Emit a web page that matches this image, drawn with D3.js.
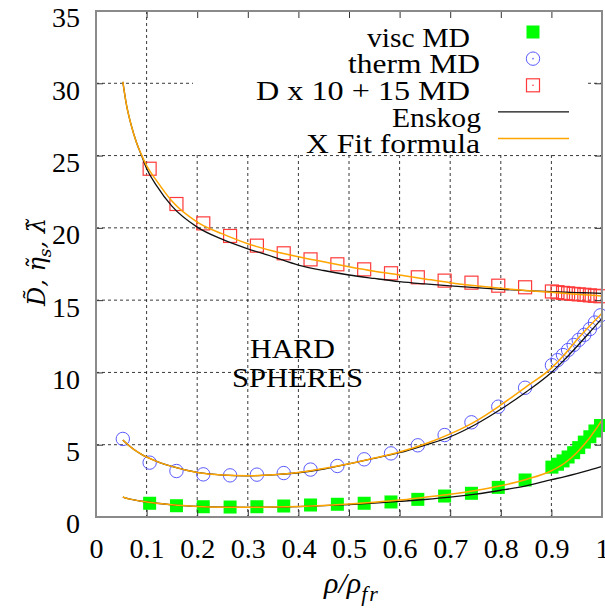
<!DOCTYPE html>
<html>
<head>
<meta charset="utf-8">
<script src="https://cdn.jsdelivr.net/npm/d3@7"></script>
<style>
  html, body { margin: 0; padding: 0; background: #fff; }
  svg { display: block; font-family: "Liberation Serif", serif; }
</style>
</head>
<body>
<svg id="chart" width="605" height="608"></svg>
<script>
// Axis ticks
const xTicks = [0, 0.1, 0.2, 0.3, 0.4, 0.5, 0.6, 0.7, 0.8, 0.9, 1];
const yTicks = [0, 5, 10, 15, 20, 25, 30, 35];

// MD densities (rho / rho_fr)
const mdDensity = [0.106, 0.159, 0.212, 0.265, 0.318, 0.371, 0.424, 0.477, 0.530, 0.583,
  0.636, 0.689, 0.742, 0.795, 0.848, 0.901, 0.912, 0.923, 0.933, 0.944, 0.954, 0.965,
  0.976, 0.986, 0.997];
const thermDensity = [0.053, 0.106, 0.159, 0.212, 0.265, 0.318, 0.371, 0.424, 0.477, 0.530,
  0.583, 0.636, 0.689, 0.742, 0.795, 0.848, 0.901, 0.912, 0.923, 0.933, 0.944, 0.954,
  0.965, 0.976, 0.986, 0.997];

// Shear viscosity (MD)
const viscMD = [0.95, 0.78, 0.71, 0.69, 0.71, 0.76, 0.83, 0.88, 0.95, 1.04, 1.22, 1.45, 1.64,
  2.05, 2.56, 3.45, 3.65, 3.88, 4.15, 4.45, 4.80, 5.18, 5.55, 5.95, 6.33];
// Thermal conductivity (MD)
const thermMD = [5.40, 3.76, 3.18, 2.95, 2.88, 2.93, 3.04, 3.28, 3.53, 3.99, 4.40, 4.96, 5.67,
  6.55, 7.63, 8.94, 10.50, 10.85, 11.20, 11.55, 11.90, 12.25, 12.60, 13.00, 13.45, 13.95];
// Self diffusion (MD), shown as D x 10 + 15
const diffMD = [24.09, 21.65, 20.31, 19.44, 18.77, 18.24, 17.82, 17.48, 17.13, 16.86, 16.58,
  16.35, 16.21, 16.00, 15.89, 15.60, 15.55, 15.50, 15.47, 15.43, 15.40, 15.37, 15.33, 15.30, 15.27];

// Theory curves sampled on a common density grid
const curveDensity = [0.053, 0.06, 0.07, 0.08, 0.09, 0.1, 0.12, 0.15, 0.2, 0.25, 0.3, 0.35,
  0.4, 0.45, 0.5, 0.55, 0.6, 0.65, 0.7, 0.75, 0.8, 0.85, 0.9, 0.925, 0.95, 0.975, 1.0];

const viscEnskog = [1.38, 1.30, 1.22, 1.15, 1.09, 1.04, 0.95, 0.84, 0.73, 0.68, 0.67, 0.69,
  0.72, 0.78, 0.86, 0.96, 1.08, 1.21, 1.37, 1.58, 1.85, 2.16, 2.58, 2.78, 3.00, 3.24, 3.50];
const viscFit = [1.38, 1.30, 1.22, 1.15, 1.09, 1.04, 0.95, 0.84, 0.73, 0.68, 0.67, 0.69,
  0.73, 0.80, 0.90, 1.02, 1.17, 1.37, 1.57, 1.83, 2.16, 2.60, 3.20, 3.70, 4.45, 5.45, 6.70];

const thermEnskog = [5.33, 5.10, 4.80, 4.55, 4.33, 4.15, 3.85, 3.50, 3.08, 2.90, 2.85, 2.92,
  3.06, 3.32, 3.68, 4.06, 4.45, 4.97, 5.55, 6.40, 7.45, 8.65, 10.00, 10.85, 11.78, 12.75, 13.74];
const thermFit = [5.33, 5.10, 4.80, 4.55, 4.33, 4.15, 3.85, 3.50, 3.08, 2.90, 2.85, 2.92,
  3.08, 3.35, 3.68, 4.08, 4.50, 5.05, 5.75, 6.62, 7.75, 9.00, 10.30, 11.20, 12.25, 13.20, 14.10];

const diffEnskog = [30.10, 28.55, 27.05, 25.90, 25.00, 24.10, 22.90, 21.50, 20.05, 19.20, 18.55,
  18.00, 17.43, 17.05, 16.74, 16.50, 16.28, 16.12, 15.98, 15.86, 15.75, 15.66, 15.58, 15.55,
  15.52, 15.50, 15.47];
const diffFit = [30.10, 28.55, 27.05, 25.90, 25.05, 24.30, 23.25, 21.85, 20.40, 19.58, 18.90,
  18.40, 18.00, 17.65, 17.31, 17.00, 16.74, 16.47, 16.21, 16.00, 15.82, 15.67, 15.54, 15.47,
  15.41, 15.35, 15.29];

const legendLabels = ["visc MD", "therm MD", "D x 10 + 15 MD", "Enskog", "X Fit formula"];

// ---------------------------------------------------------------------------
const SERIF = '"Liberation Serif", "Times New Roman", serif';
const svg = d3.select("#chart");
const plot = { left: 96, right: 602, top: 11, bottom: 517 };
const x = d3.scaleLinear().domain([0, 1]).range([plot.left, plot.right]);
const y = d3.scaleLinear().domain([0, 35]).range([plot.bottom, plot.top]);

const GREEN = "#00ff00", BLUE = "#5a5aff", RED = "#ff3a3a", ORANGE = "#ffa500";

svg.append("rect").attr("width", 605).attr("height", 608).attr("fill", "#fff");

// Dashed grid
const grid = svg.append("g").attr("stroke", "#222").attr("stroke-width", 0.9)
  .attr("stroke-dasharray", "3,3");
grid.selectAll("line.v").data(xTicks.slice(1, -1)).join("line")
  .attr("x1", d => x(d)).attr("x2", d => x(d))
  .attr("y1", plot.top).attr("y2", plot.bottom);
grid.selectAll("line.h").data(yTicks.slice(1, -1)).join("line")
  .attr("y1", d => y(d)).attr("y2", d => y(d))
  .attr("x1", plot.left).attr("x2", plot.right);

// Opaque key background
svg.append("rect").attr("x", 193).attr("y", plot.top).attr("width", 394).attr("height", 141)
  .attr("fill", "#fff");

// MD markers
const zip = (xs, ys) => xs.map((v, i) => [v, ys[i]]);
const sq = 13;
svg.append("g").selectAll("rect").data(zip(mdDensity, viscMD)).join("rect")
  .attr("x", d => x(d[0]) - sq / 2).attr("y", d => y(d[1]) - sq / 2)
  .attr("width", sq).attr("height", sq).attr("fill", GREEN);
svg.append("g").selectAll("circle").data(zip(thermDensity, thermMD)).join("circle")
  .attr("cx", d => x(d[0])).attr("cy", d => y(d[1])).attr("r", 6.7)
  .attr("fill", "none").attr("stroke", BLUE).attr("stroke-width", 1);
svg.append("g").selectAll("rect").data(zip(mdDensity, diffMD)).join("rect")
  .attr("x", d => x(d[0]) - sq / 2).attr("y", d => y(d[1]) - sq / 2)
  .attr("width", sq).attr("height", sq).attr("fill", "none")
  .attr("stroke", RED).attr("stroke-width", 1.2);

// Theory curves
const line = d3.line().x(d => x(d[0])).y(d => y(d[1])).curve(d3.curveMonotoneX);
[viscEnskog, thermEnskog, diffEnskog].forEach(s => {
  svg.append("path").datum(zip(curveDensity, s)).attr("d", line)
    .attr("fill", "none").attr("stroke", "#111").attr("stroke-width", 1.3);
});
[viscFit, thermFit, diffFit].forEach(s => {
  svg.append("path").datum(zip(curveDensity, s)).attr("d", line)
    .attr("fill", "none").attr("stroke", ORANGE).attr("stroke-width", 1.5);
});

// Axes (ticks pointing inward, mirrored on top and right)
const ax = svg.append("g").attr("transform", `translate(0,${plot.bottom})`)
  .call(d3.axisBottom(x).tickValues(xTicks).tickSize(-7).tickFormat(d3.format("~g")));
ax.selectAll("text").attr("y", 41).attr("dy", 0);
const ay = svg.append("g").attr("transform", `translate(${plot.left},0)`)
  .call(d3.axisLeft(y).tickValues(yTicks).tickSize(-7).tickPadding(16));
ay.selectAll("text").attr("dy", "0.57em");
[ax, ay].forEach(g => g.attr("font-family", null).attr("font-size", null)
  .selectAll("text").style("font-family", SERIF).style("font-size", "28px").attr("fill", "#000"));
svg.append("g").attr("transform", `translate(0,${plot.top})`)
  .call(d3.axisTop(x).tickValues(xTicks).tickSize(-7).tickFormat(""));
svg.append("g").attr("transform", `translate(${plot.right},0)`)
  .call(d3.axisRight(y).tickValues(yTicks).tickSize(-7).tickFormat(""));
svg.selectAll(".domain").remove();
svg.selectAll(".tick line").attr("stroke", "#333").attr("stroke-width", 1);

// Frame
svg.append("rect").attr("x", plot.left).attr("y", plot.top)
  .attr("width", plot.right - plot.left).attr("height", plot.bottom - plot.top)
  .attr("fill", "none").attr("stroke", "#8a8a8a").attr("stroke-width", 2);

// Axis titles
const xt = svg.append("text").attr("x", 352).attr("y", 593).attr("text-anchor", "middle")
  .style("font-family", SERIF).style("font-size", "30px").style("font-style", "italic");
xt.append("tspan").text("ρ/ρ");
xt.append("tspan").attr("dy", 8).style("font-size", "22px").attr("letter-spacing", 2).text("fr");

const yt = svg.append("text").attr("transform", "translate(45,262) rotate(-90)")
  .attr("text-anchor", "middle")
  .style("font-family", '"DejaVu Serif", serif').style("font-size", "24px")
  .style("font-style", "italic");
yt.append("tspan").text("D\u0303, η\u0303");
yt.append("tspan").attr("dy", 6).style("font-size", "17px").text("s");
yt.append("tspan").attr("dy", -6).text(", λ\u0303");

// Annotation
svg.append("text").attr("x", 250).attr("y", 358).attr("textLength", 85)
  .attr("lengthAdjust", "spacingAndGlyphs")
  .style("font-family", SERIF).style("font-size", "28px").text("HARD");
svg.append("text").attr("x", 232).attr("y", 387).attr("textLength", 131)
  .attr("lengthAdjust", "spacingAndGlyphs")
  .style("font-family", SERIF).style("font-size", "28px").text("SPHERES");

// Key
const keyRight = [470, 480, 470, 481, 480];
const keyWidth = [103, 132, 214, 89, 174];
const keyBase = 46.7, keyStep = 26.65, keyX = 533;
legendLabels.forEach((t, i) => {
  svg.append("text").attr("x", keyRight[i] - keyWidth[i]).attr("y", keyBase + i * keyStep)
    .attr("textLength", keyWidth[i]).attr("lengthAdjust", "spacingAndGlyphs")
    .style("font-family", SERIF).style("font-size", "27px").text(t);
});
const ky = i => keyBase + i * keyStep - 14.7;
svg.append("rect").attr("x", keyX - sq / 2).attr("y", ky(0) - sq / 2)
  .attr("width", sq).attr("height", sq).attr("fill", GREEN);
svg.append("circle").attr("cx", keyX).attr("cy", ky(1)).attr("r", 6.7)
  .attr("fill", "none").attr("stroke", BLUE).attr("stroke-width", 1);
svg.append("circle").attr("cx", keyX).attr("cy", ky(1)).attr("r", 0.8).attr("fill", BLUE);
svg.append("rect").attr("x", keyX - sq / 2).attr("y", ky(2) - sq / 2)
  .attr("width", sq).attr("height", sq).attr("fill", "none")
  .attr("stroke", RED).attr("stroke-width", 1.2);
svg.append("circle").attr("cx", keyX).attr("cy", ky(2)).attr("r", 0.8).attr("fill", RED);
svg.append("line").attr("x1", 498).attr("x2", 569).attr("y1", ky(3)).attr("y2", ky(3))
  .attr("stroke", "#111").attr("stroke-width", 1.3);
svg.append("line").attr("x1", 498).attr("x2", 569).attr("y1", ky(4)).attr("y2", ky(4))
  .attr("stroke", ORANGE).attr("stroke-width", 1.5);
</script>
</body>
</html>
